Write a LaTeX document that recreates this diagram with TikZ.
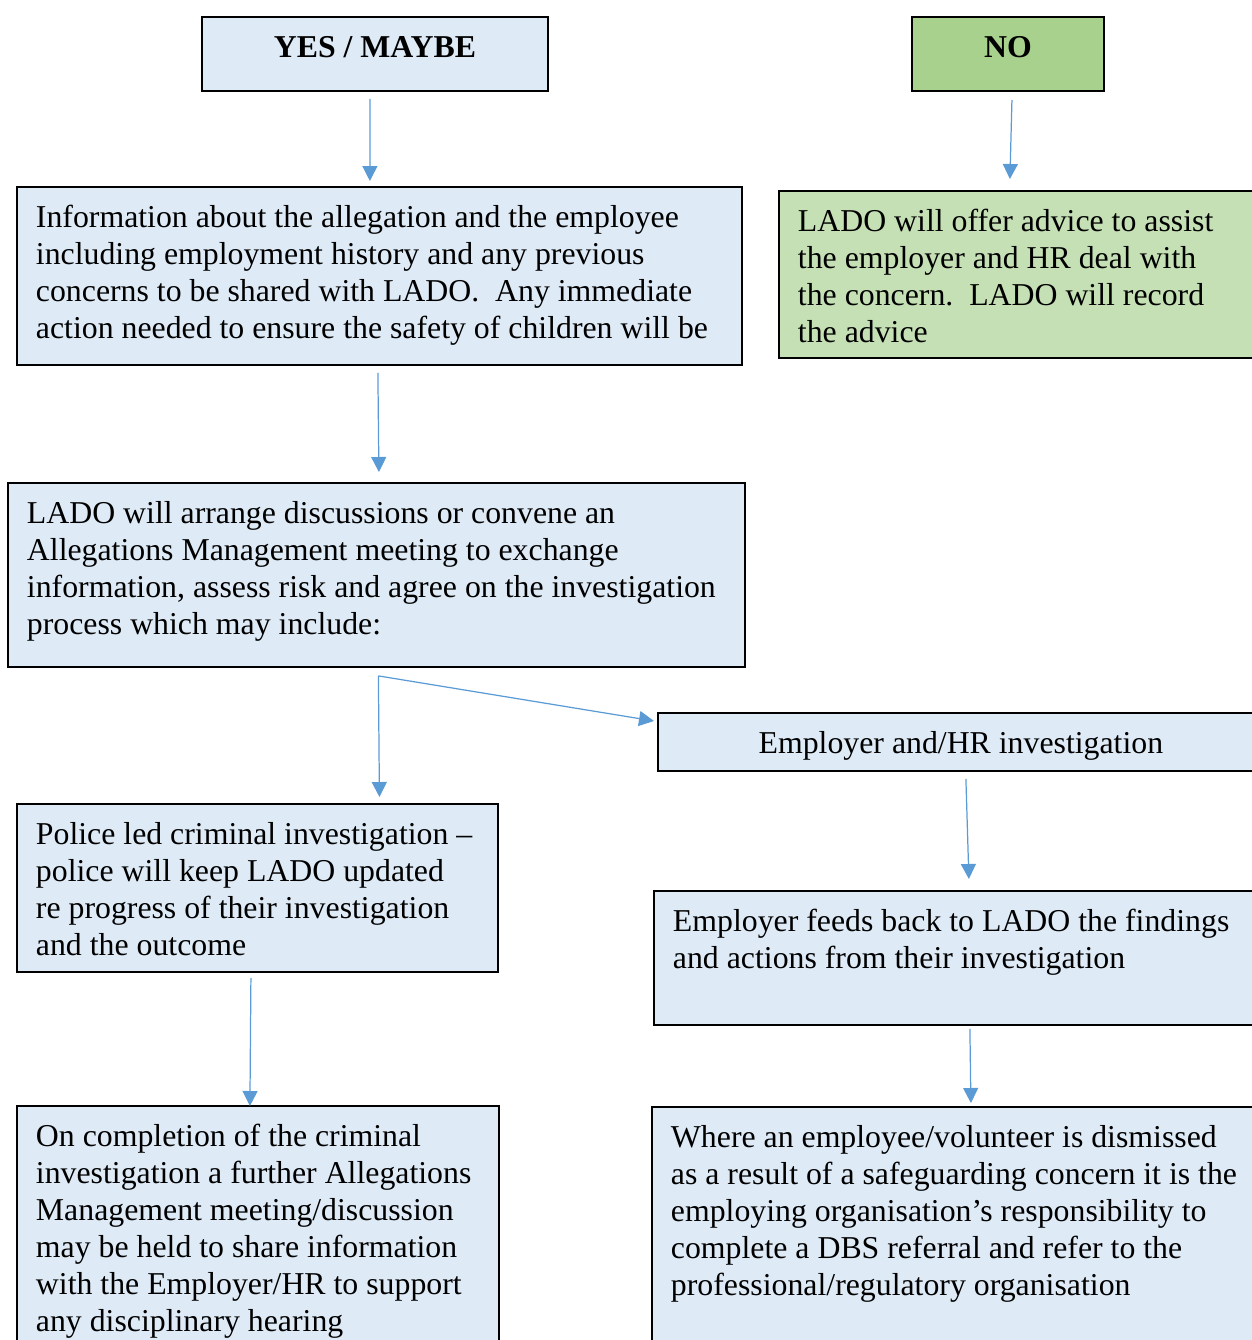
\documentclass[tikz,border=0pt]{standalone}
\usepackage{fontspec}
\setmainfont{Liberation Serif}
\usepackage{xcolor}
\usetikzlibrary{positioning, arrows.meta, calc}

\definecolor{paleblue}{HTML}{DEEBF7}
\definecolor{midgreen}{HTML}{A9D18E}
\definecolor{palegreen}{HTML}{C5E0B4}
\definecolor{arrowblue}{HTML}{5B9BD5}
\hyphenpenalty=10000
\exhyphenpenalty=10000

\begin{document}
\begin{tikzpicture}[
    x=0.02cm, y=-0.02cm,
    box/.style={draw=black, line width=1.1pt, fill=paleblue, anchor=north west, align=flush left,
        inner xsep=0.38cm, inner ysep=0pt, text height=0.82cm,
        font=\fontsize{18.1}{21.05}\selectfont},
    answer/.style={box, align=flush center, font=\fontsize{18.1}{21.05}\selectfont\bfseries, text depth=0.66cm},
    flow/.style={-{Triangle[width=0.3cm, length=0.3cm]}, draw=arrowblue, line width=0.7pt}
]
    \useasboundingbox (0,0) rectangle (1252,1340);
    \clip (0,0) rectangle (1252,1340);

    \node[answer, text width=6.16cm] (yes) at (201,16) {YES / MAYBE};
    \node[answer, fill=midgreen, text width=3.08cm] (no) at (911,16) {NO};

    \node[box, text width=13.74cm, text depth=2.74cm] (info) at (16,186)
        {Information about the allegation and the employee\\including employment history and any previous\\concerns to be shared with LADO.\ \ Any immediate\\action needed to ensure the safety of children will be};
    \node[box, fill=palegreen, text width=9.04cm, text depth=2.52cm] (advice) at (778,190)
        {LADO will offer advice to assist\\the employer and HR deal with\\the concern.\ \ LADO will record\\the advice};

    \node[box, text width=13.98cm, text depth=2.86cm] (meeting) at (7,482)
        {LADO will arrange discussions or convene an\\Allegations Management meeting to exchange\\information, assess risk and agree on the investigation\\process which may include:};

    \node[box, align=flush center, text width=11.36cm, text depth=0.34cm] (emphr) at (657,712)
        {Employer and/HR investigation};
    \node[box, text width=8.86cm, text depth=2.54cm] (police) at (16,803)
        {Police led criminal investigation --\\police will keep LADO updated\\re progress of their investigation\\and the outcome};
    \node[box, text width=11.52cm, text depth=1.86cm] (feedback) at (653,890)
        {Employer feeds back to LADO the findings\\and actions from their investigation};

    \node[box, text width=8.88cm, text depth=4.78cm] (followup) at (16,1105)
        {On completion of the criminal\\investigation a further Allegations\\Management meeting/discussion\\may be held to share information\\with the Employer/HR to support\\any disciplinary hearing};
    \node[box, text width=11.6cm, text depth=4.78cm] (dbs) at (651,1106)
        {Where an employee/volunteer is dismissed\\as a result of a safeguarding concern it is the\\employing organisation’s responsibility to\\complete a DBS referral and refer to the\\professional/regulatory organisation};

    \draw[flow] ($(yes.south)+(-5,7)$) -- ($(info.north)+(-9.5,-5)$);
    \draw[flow] ($(no.south)+(4,8)$) -- ($(advice.north)+(-14,-11)$);
    \draw[flow] ($(info.south)+(-1.5,7)$) -- ($(meeting.north)+(2.5,-10)$);

    % two routes out of the meeting
    \coordinate (split) at ($(meeting.south)+(2,8)$);
    \draw[flow] (split) -- ($(police.north)+(122,-6)$);
    \draw[flow] (split) -- ($(emphr.north west)+(-3,9)$);

    \draw[flow] ($(emphr.south)+(5,7)$) -- ($(feedback.north)+(8,-11)$);
    \draw[flow] ($(police.south)+(-6.5,5)$) -- ($(followup.north)+(-8,1)$);
    \draw[flow] ($(feedback.south)+(9,3)$) -- ($(dbs.north)+(10,-3)$);

\end{tikzpicture}
\end{document}
